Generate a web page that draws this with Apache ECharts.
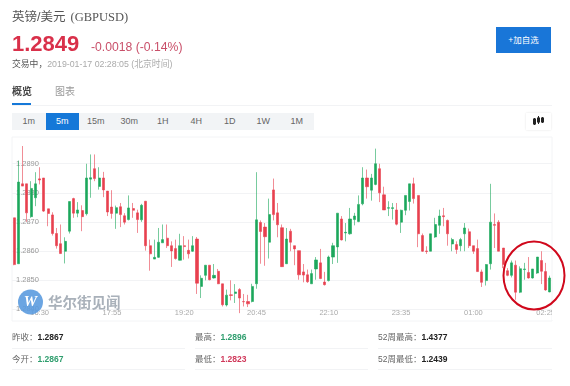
<!DOCTYPE html>
<html>
<head>
<meta charset="utf-8">
<title>英镑/美元</title>
<script src="https://cdn.jsdelivr.net/npm/echarts@6/dist/echarts.min.js"></script>
<style>
html, body { margin: 0; padding: 0; background: #fff; }
body { width: 570px; height: 386px; overflow: hidden; position: relative; font-family: "Liberation Sans", "Noto Sans CJK SC", sans-serif; }
#kline { position: absolute; left: 0; top: 0; width: 570px; height: 386px; }
.t { position: absolute; white-space: nowrap; line-height: 1; }
.box { position: absolute; }
.tab { position: absolute; top: 113px; width: 33.5px; height: 17px; line-height: 17px; text-align: center; font-size: 9px; color: #666; }
.tab.on { background: #1578d8; color: #fff; }
.rule { position: absolute; height: 1px; background: #f2f3f5; }
.stat { position: absolute; font-size: 8.5px; line-height: 1; color: #666; white-space: nowrap; }
.stat b { margin-left: 0; color: #222; }
.stat b.g { color: #2f9e6e; }
.stat b.r { color: #d0385a; }
</style>
</head>
<body>
<div id="kline"></div>

<div class="t" style="left:12px;top:11px;font-size:12.5px;color:#555;">英镑/美元<span style="font-family:'Liberation Serif';margin-left:5px;font-size:12.5px;">(GBPUSD)</span></div>
<div class="t" style="left:12px;top:33px;font-size:22px;font-weight:bold;color:#d9304a;">1.2849</div>
<div class="t" style="left:91px;top:41px;font-size:12.2px;color:#c9506a;">-0.0018 (-0.14%)</div>
<div class="t" style="left:12px;top:60px;font-size:8.8px;color:#555;">交易中，<span style="color:#aaa;">2019-01-17 02:28:05 (北京时间)</span></div>
<div class="box" style="left:496px;top:27px;width:55px;height:26px;background:#1976d8;color:#fff;font-size:8.5px;line-height:26px;text-align:center;">+加自选</div>

<div class="t" style="left:12px;top:87px;font-size:10px;font-weight:bold;color:#444;">概览</div>
<div class="t" style="left:55px;top:87px;font-size:10px;color:#999;">图表</div>
<div class="rule" style="left:12px;top:105px;width:540px;"></div>
<div class="box" style="left:12px;top:103px;width:19px;height:2px;background:#1578d8;"></div>

<div class="box" style="left:12px;top:113px;width:302px;height:17px;background:#f2f4f6;"></div>
<div id="tabs"></div>
<div class="box" style="left:526px;top:113px;width:25px;height:17px;background:#fff;box-shadow:0 0 2px #e4e4e4;">
  <svg width="25" height="17" viewBox="0 0 25 17"><g stroke="#222" fill="#222"><path d="M8.5 5v7M12.5 3v8M16.5 4v6" stroke-width="1"/><rect x="7.5" y="6" width="2" height="5"/><rect x="11.5" y="5" width="2" height="4"/><rect x="15.5" y="5" width="2" height="4"/></g></svg>
</div>

<div class="stat" style="left:12px;top:333px;">昨收：<b>1.2867</b></div>
<div class="stat" style="left:195px;top:333px;">最高：<b class="g">1.2896</b></div>
<div class="stat" style="left:378px;top:333px;">52周最高：<b>1.4377</b></div>
<div class="stat" style="left:12px;top:355px;">今开：<b class="g">1.2867</b></div>
<div class="stat" style="left:195px;top:355px;">最低：<b class="r">1.2823</b></div>
<div class="stat" style="left:378px;top:355px;">52周最低：<b>1.2439</b></div>
<div class="rule" style="left:12px;top:348px;width:173px;"></div>
<div class="rule" style="left:195px;top:348px;width:173px;"></div>
<div class="rule" style="left:378px;top:348px;width:174px;"></div>
<div class="rule" style="left:12px;top:369px;width:173px;"></div>
<div class="rule" style="left:195px;top:369px;width:173px;"></div>
<div class="rule" style="left:378px;top:369px;width:174px;"></div>

<script>
var periods = ['1m', '5m', '15m', '30m', '1H', '4H', '1D', '1W', '1M'];

var times = ['16:00','16:05','16:10','16:15','16:20','16:25','16:30','16:35','16:40','16:45','16:50','16:55',
    '17:00','17:05','17:10','17:15','17:20','17:25','17:30','17:35','17:40','17:45','17:50','17:55',
    '18:00','18:05','18:10','18:15','18:20','18:25','18:30','18:35','18:40','18:45','18:50','18:55',
    '19:00','19:05','19:10','19:15','19:20','19:25','19:30','19:35','19:40','19:45','19:50','19:55',
    '20:00','20:05','20:10','20:15','20:20','20:25','20:30','20:35','20:40','20:45','20:50','20:55',
    '21:00','21:05','21:10','21:15','21:20','21:25','21:30','21:35','21:40','21:45','21:50','21:55',
    '22:00','22:05','22:10','22:15','22:20','22:25','22:30','22:35','22:40','22:45','22:50','22:55',
    '23:00','23:05','23:10','23:15','23:20','23:25','23:30','23:35','23:40','23:45','23:50','23:55',
    '00:00','00:05','00:10','00:15','00:20','00:25','00:30','00:35','00:40','00:45','00:50','00:55',
    '01:00','01:05','01:10','01:15','01:20','01:25','01:30','01:35','01:40','01:45','01:50','01:55',
    '02:00','02:05','02:10','02:15','02:20','02:25','02:30'];

var timeTicks = ['16:30', '17:55', '19:20', '20:45', '22:10', '23:35', '01:00', '02:25'];
var priceTicks = [1.284, 1.285, 1.286, 1.287, 1.288, 1.289];

var opens = [1.28714,1.28556,1.28831,1.28831,1.28718,1.28783,1.28848,1.28851,1.28745,1.28724,
    1.28660,1.28625,1.28599,1.28668,1.28780,1.28730,1.28739,1.28728,1.28847,1.28883,
    1.28822,1.28851,1.28806,1.28751,1.28730,1.28752,1.28721,1.28708,1.28746,1.28731,
    1.28707,1.28771,1.28618,1.28572,1.28578,1.28628,1.28644,1.28618,1.28608,1.28568,
    1.28618,1.28602,1.28599,1.28641,1.28478,1.28516,1.28551,1.28507,1.28530,1.28487,
    1.28414,1.28449,1.28454,1.28467,1.28426,1.28426,1.28426,1.28487,1.28698,1.28682,
    1.28630,1.28810,1.28731,1.28680,1.28556,1.28668,1.28618,1.28601,1.28528,1.28518,
    1.28487,1.28538,1.28559,1.28493,1.28498,1.28579,1.28614,1.28710,1.28662,1.28659,
    1.28708,1.28701,1.28762,1.28851,1.28809,1.28829,1.28883,1.28793,1.28747,1.28746,
    1.28741,1.28699,1.28740,1.28770,1.28831,1.28791,1.28653,1.28600,1.28599,1.28648,
    1.28688,1.28721,1.28705,1.28624,1.28622,1.28618,1.28659,1.28666,1.28618,1.28608,
    1.28528,1.28498,1.28556,1.28691,1.28699,1.28610,1.28532,1.28516,1.28551,1.28458,
    1.28536,1.28526,1.28507,1.28524,1.28567,1.28529,1.28459];

var closes = [1.28553,1.28837,1.28823,1.28731,1.28815,1.28831,1.28844,1.28737,1.28729,1.28660,
    1.28618,1.28591,1.28633,1.28770,1.28730,1.28741,1.28718,1.28851,1.28852,1.28849,
    1.28851,1.28810,1.28734,1.28729,1.28749,1.28725,1.28699,1.28748,1.28740,1.28708,
    1.28757,1.28618,1.28590,1.28578,1.28630,1.28639,1.28618,1.28600,1.28574,1.28618,
    1.28615,1.28590,1.28618,1.28489,1.28506,1.28551,1.28501,1.28516,1.28487,1.28415,
    1.28448,1.28447,1.28459,1.28438,1.28425,1.28418,1.28478,1.28707,1.28667,1.28649,
    1.28725,1.28725,1.28690,1.28546,1.28641,1.28630,1.28607,1.28518,1.28517,1.28494,
    1.28522,1.28569,1.28505,1.28484,1.28579,1.28618,1.28730,1.28638,1.28664,1.28710,
    1.28720,1.28760,1.28851,1.28821,1.28851,1.28900,1.28800,1.28741,1.28749,1.28749,
    1.28692,1.28740,1.28791,1.28831,1.28780,1.28659,1.28599,1.28598,1.28659,1.28691,
    1.28720,1.28718,1.28659,1.28639,1.28605,1.28639,1.28679,1.28618,1.28599,1.28529,
    1.28492,1.28553,1.28699,1.28688,1.28599,1.28553,1.28516,1.28559,1.28458,1.28539,
    1.28538,1.28507,1.28538,1.28579,1.28530,1.28466,1.28507];

var lows = [1.28551,1.28556,1.28823,1.28700,1.28714,1.28754,1.28829,1.28734,1.28685,1.28653,
    1.28608,1.28590,1.28557,1.28660,1.28714,1.28716,1.28668,1.28722,1.28783,1.28840,
    1.28811,1.28785,1.28720,1.28711,1.28676,1.28682,1.28691,1.28705,1.28714,1.28662,
    1.28700,1.28601,1.28532,1.28572,1.28576,1.28628,1.28610,1.28545,1.28570,1.28567,
    1.28570,1.28574,1.28597,1.28452,1.28438,1.28499,1.28499,1.28505,1.28486,1.28409,
    1.28409,1.28430,1.28421,1.28386,1.28409,1.28407,1.28423,1.28470,1.28556,1.28549,
    1.28574,1.28705,1.28647,1.28545,1.28555,1.28599,1.28551,1.28501,1.28492,1.28490,
    1.28487,1.28501,1.28503,1.28481,1.28495,1.28555,1.28559,1.28636,1.28633,1.28656,
    1.28688,1.28699,1.28757,1.28780,1.28773,1.28826,1.28768,1.28741,1.28720,1.28708,
    1.28688,1.28662,1.28723,1.28739,1.28763,1.28613,1.28597,1.28590,1.28599,1.28645,
    1.28659,1.28685,1.28618,1.28599,1.28590,1.28599,1.28599,1.28610,1.28590,1.28528,
    1.28476,1.28481,1.28536,1.28610,1.28599,1.28541,1.28513,1.28509,1.28432,1.28455,
    1.28501,1.28505,1.28505,1.28521,1.28486,1.28463,1.28458];

var highs = [1.28714,1.28911,1.28961,1.28831,1.28840,1.28871,1.28888,1.28851,1.28745,1.28733,
    1.28679,1.28691,1.28647,1.28770,1.28783,1.28768,1.28757,1.28900,1.28932,1.28932,
    1.28888,1.28872,1.28806,1.28809,1.28756,1.28765,1.28730,1.28791,1.28765,1.28742,
    1.28762,1.28772,1.28639,1.28639,1.28679,1.28691,1.28691,1.28633,1.28639,1.28659,
    1.28651,1.28639,1.28651,1.28648,1.28516,1.28551,1.28551,1.28555,1.28538,1.28487,
    1.28467,1.28499,1.28486,1.28472,1.28452,1.28449,1.28487,1.28871,1.28705,1.28696,
    1.28780,1.28849,1.28765,1.28691,1.28679,1.28676,1.28618,1.28601,1.28555,1.28536,
    1.28536,1.28579,1.28607,1.28528,1.28584,1.28628,1.28730,1.28720,1.28696,1.28748,
    1.28731,1.28791,1.28888,1.28880,1.28865,1.28952,1.28900,1.28821,1.28771,1.28765,
    1.28765,1.28742,1.28791,1.28831,1.28852,1.28791,1.28660,1.28616,1.28659,1.28714,
    1.28742,1.28748,1.28708,1.28645,1.28633,1.28645,1.28696,1.28677,1.28618,1.28639,
    1.28536,1.28555,1.28831,1.28729,1.28706,1.28610,1.28541,1.28567,1.28567,1.28547,
    1.28559,1.28579,1.28538,1.28579,1.28599,1.28559,1.28515];

var UP_COLOR = '#1ca75c';
var DOWN_COLOR = '#e8404f';

// period buttons
var tabs = document.getElementById('tabs');
periods.forEach(function (p, i) {
    var d = document.createElement('div');
    d.className = p === '5m' ? 'tab on' : 'tab';
    d.style.left = (12 + i * 33.5) + 'px';
    d.textContent = p;
    tabs.appendChild(d);
});

// ECharts wants [open, close, low, high]
var candles = times.map(function (t, i) {
    return [opens[i], closes[i], lows[i], highs[i]];
});

var chart = echarts.init(document.getElementById('kline'));
chart.setOption({
    animation: false,
    grid: { left: 12, top: 137, width: 540, height: 184, show: true, borderColor: '#f3f4f6', borderWidth: 1 },
    xAxis: {
        type: 'category',
        data: times,
        axisLine: { show: false },
        axisTick: { show: false },
        splitLine: { show: false },
        axisLabel: {
            inside: true,
            margin: 4,
            fontSize: 7.5,
            color: '#aaa',
            fontFamily: 'Liberation Sans',
            interval: function (i, v) { return timeTicks.indexOf(v) >= 0; }
        }
    },
    yAxis: {
        type: 'value',
        min: 1.28359,
        max: 1.28992,
        axisLine: { show: false },
        axisTick: { show: false, customValues: priceTicks },
        splitLine: { lineStyle: { color: '#f2f3f5', width: 1 } },
        axisLabel: {
            inside: true,
            margin: 4,
            fontSize: 7.5,
            color: '#999',
            fontFamily: 'Liberation Sans',
            customValues: priceTicks,
            formatter: function (v) { return v.toFixed(4); }
        }
    },
    series: [{
        type: 'candlestick',
        data: candles,
        barWidth: 2.6,
        itemStyle: {
            color: UP_COLOR,
            color0: DOWN_COLOR,
            borderColor: UP_COLOR,
            borderColor0: DOWN_COLOR,
            borderWidth: 0.6
        }
    }],
    graphic: [
        // watermark
        { type: 'circle', z: 50, shape: { cx: 30.5, cy: 302, r: 12.5 }, style: { fill: '#5b9bdf', opacity: 0.9 } },
        { type: 'text', z: 51, x: 30.5, y: 302, style: { text: 'W', fill: '#fff', font: 'italic bold 15px "Liberation Serif"', textAlign: 'center', textVerticalAlign: 'middle' } },
        { type: 'text', z: 50, x: 48, y: 302, style: { text: '华尔街见闻', fill: '#a9b1ba', font: 'bold 14.5px "Noto Sans CJK SC"', textVerticalAlign: 'middle' } },
        // the last x label runs out of the plot in the original
        { type: 'rect', z: 60, shape: { x: 552, y: 306, width: 18, height: 14 }, style: { fill: '#fff' } },
        // hand drawn mark round the latest bars
        { type: 'ellipse', z: 70, shape: { cx: 534, cy: 275.5, rx: 30.5, ry: 34 }, style: { fill: 'none', stroke: '#d0081c', lineWidth: 2 } }
    ]
});
</script>
</body>
</html>
